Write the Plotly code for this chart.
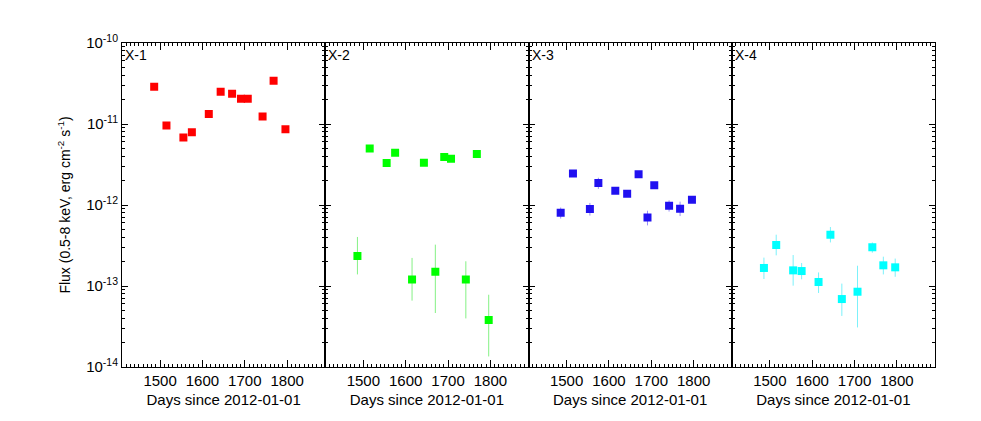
import plotly.graph_objects as go

# observation days (since 2012-01-01)
days = [1486, 1515, 1555, 1575, 1615, 1643, 1670, 1691, 1707, 1742, 1768, 1796]
days_x4 = [1486, 1515, 1555, 1575, 1615, 1643, 1670, 1707, 1742, 1768, 1796]

# X-1
flux_x1 = [2.88e-11, 9.6e-12, 6.8e-12, 7.9e-12, 1.33e-11, 2.5e-11, 2.37e-11, 2.05e-11, 2.05e-11, 1.24e-11, 3.43e-11, 8.6e-12]
lo_x1 = flux_x1
hi_x1 = flux_x1

# X-2
flux_x2 = [2.35e-13, 5.0e-12, 3.3e-12, 4.42e-12, 1.2e-13, 3.33e-12, 1.5e-13, 3.92e-12, 3.73e-12, 1.2e-13, 4.26e-12, 3.8e-14]
lo_x2 = [1.39e-13, 5.0e-12, 3.3e-12, 4.42e-12, 6.6e-14, 3.33e-12, 4.64e-14, 3.92e-12, 3.73e-12, 3.98e-14, 4.26e-12, 1.35e-14]
hi_x2 = [4.03e-13, 5.0e-12, 3.3e-12, 4.42e-12, 2.22e-13, 3.33e-12, 3.24e-13, 3.92e-12, 3.73e-12, 2.02e-13, 4.26e-12, 7.8e-14]

# X-3
flux_x3 = [8.0e-13, 2.45e-12, 8.9e-13, 1.87e-12, 1.5e-12, 1.38e-12, 2.39e-12, 7.0e-13, 1.75e-12, 9.8e-13, 9.0e-13, 1.16e-12]
lo_x3 = [6.8e-13, 2.45e-12, 7.4e-13, 1.58e-12, 1.5e-12, 1.38e-12, 2.39e-12, 5.6e-13, 1.75e-12, 8.3e-13, 7.3e-13, 1.16e-12]
hi_x3 = [9.3e-13, 2.45e-12, 1.06e-12, 2.17e-12, 1.5e-12, 1.38e-12, 2.39e-12, 8.5e-13, 1.75e-12, 1.14e-12, 1.1e-12, 1.16e-12]

# X-4
flux_x4 = [1.67e-13, 3.21e-13, 1.56e-13, 1.53e-13, 1.12e-13, 4.3e-13, 6.9e-14, 8.5e-14, 3.0e-13, 1.8e-13, 1.7e-13]
lo_x4 = [1.22e-13, 2.39e-13, 1.01e-13, 1.21e-13, 8.2e-14, 3.45e-13, 4.27e-14, 3.08e-14, 2.58e-13, 1.39e-13, 1.3e-13]
hi_x4 = [2.24e-13, 4.3e-13, 2.41e-13, 1.92e-13, 1.47e-13, 5.35e-13, 1.07e-13, 1.78e-13, 3.45e-13, 2.3e-13, 2.18e-13]

sources = [
    ('X-1', days, flux_x1, lo_x1, hi_x1, '#FF0000', 'rgba(255,120,120,0.9)'),
    ('X-2', days, flux_x2, lo_x2, hi_x2, '#00FF00', 'rgba(120,240,120,0.9)'),
    ('X-3', days, flux_x3, lo_x3, hi_x3, '#2010F0', 'rgba(140,130,250,0.9)'),
    ('X-4', days_x4, flux_x4, lo_x4, hi_x4, '#00FFFF', 'rgba(110,240,250,0.9)'),
]

decades = [-14, -13, -12, -11, -10]
major_y = [10.0 ** e for e in decades]
major_y_text = [f'10<sup>{e}</sup>' for e in decades]
minor_y = [m * 10.0 ** e for e in decades[:-1] for m in range(2, 10)]

font = 'Liberation Sans, Arial, sans-serif'
tfont = dict(family=font, size=15, color='black')


def ax(n):
    return '' if n == 1 else str(n)


fig = go.Figure()
layout = {}

for i, (name, d, f, lo, hi, col, ecol) in enumerate(sources):
    n = i + 1
    xa, ya, yr = 'x' + ax(n), 'y' + ax(n), 'y' + ax(n + 4)
    fig.add_trace(go.Scatter(
        x=d, y=f, mode='markers', name=name, xaxis=xa, yaxis=ya,
        marker=dict(symbol='square', size=8, color=col),
        error_y=dict(type='data', symmetric=False,
                     array=[h - v for h, v in zip(hi, f)],
                     arrayminus=[v - l for v, l in zip(f, lo)],
                     color=ecol, thickness=1, width=0),
        showlegend=False))
    # invisible copy so the right-hand tick axis is drawn
    fig.add_trace(go.Scatter(x=d, y=f, mode='markers', xaxis=xa, yaxis=yr,
                             marker=dict(opacity=0), hoverinfo='skip', showlegend=False))

    layout['xaxis' + ax(n)] = dict(
        domain=[i / 4, (i + 1) / 4], anchor=ya, range=[1410, 1890],
        tickvals=[1500, 1600, 1700, 1800],
        ticks='inside', ticklen=7, tickwidth=1, tickcolor='black',
        minor=dict(dtick=10, tick0=1400, ticks='inside', ticklen=3, tickcolor='black'),
        showline=True, linecolor='black', linewidth=1.2, mirror='ticks',
        showgrid=False, zeroline=False, automargin=False, tickfont=tfont,
        title=dict(text='Days since 2012-01-01', font=tfont, standoff=6))
    yaxis_common = dict(
        type='log', range=[-14, -10], tickvals=major_y, ticktext=major_y_text,
        ticks='inside', ticklen=6, tickwidth=1, tickcolor='black',
        minor=dict(tickvals=minor_y, ticks='inside', ticklen=3, tickwidth=1, tickcolor='black'),
        showline=True, linecolor='black', linewidth=1,
        showgrid=False, zeroline=False, automargin=False, tickfont=tfont)
    layout['yaxis' + ax(n)] = dict(yaxis_common, anchor=xa, side='left', showticklabels=(i == 0))
    layout['yaxis' + ax(n + 4)] = dict(yaxis_common, anchor=xa, side='right', overlaying=ya,
                                       showticklabels=False)

    fig.add_annotation(text=name, xref=xa + ' domain', yref=ya + ' domain',
                       x=0.005, y=0.995, xanchor='left', yanchor='top', showarrow=False,
                       font=dict(family=font, size=14, color='black'))

layout['yaxis']['title'] = dict(text='Flux (0.5-8 keV, erg cm<sup>-2</sup> s<sup>-1</sup>)',
                                font=dict(family=font, size=14, color='black'), standoff=12)

fig.update_layout(**layout)
# page body keeps an 8px margin, so the figure is 8px smaller than the window
fig.update_layout(width=973, height=413, margin=dict(l=114, r=46, t=35, b=54),
                  plot_bgcolor='white', paper_bgcolor='white',
                  font=dict(family=font, color='black'))

fig.write_html("out.html")
